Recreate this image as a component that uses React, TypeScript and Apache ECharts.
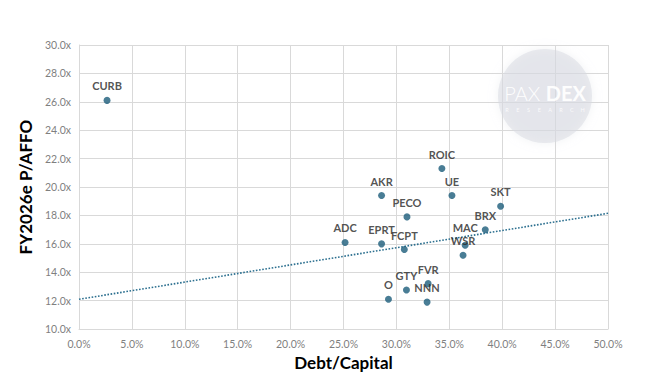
import React, { useEffect, useRef } from "react";
import * as echarts from "echarts";

const tickers = ["CURB", "ADC", "AKR", "EPRT", "O", "FCPT", "PECO", "GTY", "NNN", "FVR", "ROIC", "UE", "MAC", "WSR", "BRX", "SKT"];
const debtToCapital = [2.65, 25.15, 28.6, 28.6, 29.25, 30.75, 31.0, 30.95, 32.9, 33.0, 34.3, 35.25, 36.5, 36.3, 38.4, 39.85];
const pAffo = [26.1, 16.1, 19.4, 16.0, 12.1, 15.6, 17.9, 12.75, 11.9, 13.2, 21.3, 19.4, 15.9, 15.2, 17.0, 18.65];
const trendX = [0, 50];
const trendY = [12.1, 18.15];
const watermarkLetters = ["R", "E", "S", "E", "A", "R", "C", "H"];

export default function App() {
  const ref = useRef<HTMLDivElement>(null);
  useEffect(() => {
    if (!ref.current) return;
    const chart = echarts.init(ref.current, null, { renderer: "svg" });
    const points = tickers.map((t, i) => ({
      name: t,
      value: [debtToCapital[i], pAffo[i]],
      label: t === "MAC" ? { distance: 9 } : undefined,
    }));
    const trend = trendX.map((x, i) => [x, trendY[i]]);
    const font = "Lato, 'Open Sans', sans-serif";
    chart.setOption({
      animation: false,
      backgroundColor: "#ffffff",
      grid: { left: 79, right: 52, top: 45, bottom: 45 },
      xAxis: {
        type: "value",
        min: 0,
        max: 50,
        interval: 5,
        name: "Debt/Capital",
        nameLocation: "middle",
        nameGap: 21,
        nameTextStyle: { fontFamily: font, fontWeight: "bold", fontSize: 17, color: "#000" },
        axisLine: { show: true, lineStyle: { color: "#d9d9d9" } },
        axisTick: { show: false },
        axisLabel: { formatter: (v: number) => v.toFixed(1) + "%", color: "#7f7f7f", fontSize: 10.5, fontFamily: font, margin: 9 },
        splitLine: { show: true, lineStyle: { color: "#d9d9d9" } },
      },
      yAxis: {
        type: "value",
        min: 10,
        max: 30,
        interval: 2,
        name: "FY2026e P/AFFO",
        nameLocation: "middle",
        nameGap: 41,
        nameTextStyle: { fontFamily: font, fontWeight: "bold", fontSize: 17, color: "#000" },
        axisLine: { show: true, lineStyle: { color: "#d9d9d9" } },
        axisTick: { show: false },
        axisLabel: { formatter: (v: number) => v.toFixed(1) + "x", color: "#7f7f7f", fontSize: 10.5, fontFamily: font, margin: 8 },
        splitLine: { show: true, lineStyle: { color: "#d9d9d9" } },
      },
      graphic: [
        {
          type: "circle",
          shape: { cx: 545, cy: 96, r: 47 },
          style: { fill: "rgba(215,218,226,0.5)", shadowBlur: 10, shadowColor: "rgba(215,218,226,0.7)" },
          z: 100,
        },
        {
          type: "text",
          x: 545,
          y: 93,
          style: {
            text: "{a|PAX }{b|DEX}",
            align: "center",
            verticalAlign: "middle",
            rich: {
              a: { fill: "rgba(255,255,255,0.95)", fontFamily: "Lato, sans-serif", fontWeight: 300, fontSize: 20 },
              b: { fill: "rgba(255,255,255,0.95)", fontFamily: "Lato, sans-serif", fontWeight: "bold", fontSize: 20 },
            },
          },
          z: 101,
        },
        ...watermarkLetters.map((l, i) => ({
          type: "text",
          x: 507 + i * 10.8,
          y: 110,
          style: {
            text: l,
            fill: "rgba(255,255,255,0.85)",
            font: "5.5px Lato, sans-serif",
            align: "center",
            verticalAlign: "middle",
          },
          z: 101,
        })),
      ],
      series: [
        {
          type: "line",
          data: trend,
          showSymbol: false,
          symbol: "none",
          lineStyle: { color: "#2b6f8f", width: 1.6, type: [1.6, 1.6] },
          z: 2,
          silent: true,
        },
        {
          type: "scatter",
          data: points,
          symbolSize: 7,
          itemStyle: { color: "#1b5c7a" },
          label: {
            show: true,
            position: "top",
            distance: 6,
            lineHeight: 10,
            formatter: (p: any) => p.name,
            fontFamily: font,
            fontWeight: "bold",
            fontSize: 11,
            color: "#262626",
          },
          labelLayout: { hideOverlap: false },
          z: 3,
        },
      ],
    });
    return () => chart.dispose();
  }, []);
  return <div ref={ref} style={{ position: "absolute", left: 0, top: 0, width: 660, height: 376 }} />;
}
